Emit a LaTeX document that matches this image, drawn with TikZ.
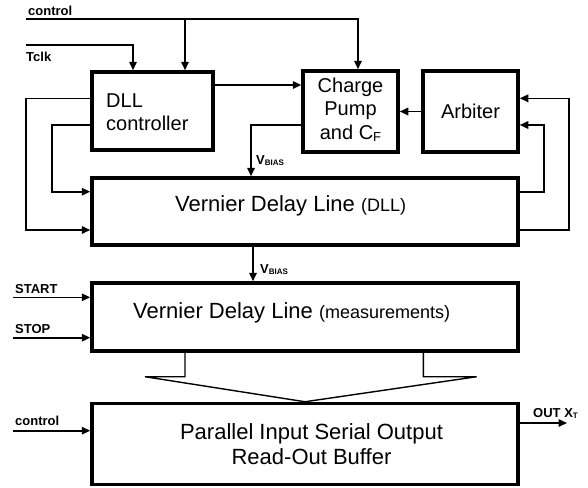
\documentclass[tikz,border=0pt]{standalone}
\usepackage{fontspec}
\setmainfont{Liberation Sans}
\usetikzlibrary{arrows.meta,calc}

\begin{document}
\begin{tikzpicture}[x=1pt,y=-1pt,
  blockbox/.style={draw,line width=3.5pt,inner sep=0pt},
  wire/.style={line width=1.6pt},
  arr/.style={wire,-{Triangle[length=8.5pt,width=7.5pt]}},
  bigtxt/.style={font=\fontsize{22}{25}\selectfont,inner sep=0pt},
  boxtxt/.style={font=\fontsize{20}{23}\selectfont,inner sep=0pt},
  sig/.style={font=\bfseries\fontsize{13}{15}\selectfont,inner sep=0pt},
  biastxt/.style={font=\bfseries\fontsize{13}{15}\selectfont,inner sep=0pt},
]
\useasboundingbox (0,0) rectangle (588,487);

% blocks
\node[blockbox,minimum width=121pt,minimum height=78pt] (dll)  at (152.5,111)   {};
\node[blockbox,minimum width=95pt, minimum height=81pt] (cp)   at (350.5,111.5) {};
\node[blockbox,minimum width=95pt, minimum height=81pt] (arb)  at (470.5,111.5) {};
\node[blockbox,minimum width=426pt,minimum height=67pt] (vdll) at (305,211.5)   {};
\node[blockbox,minimum width=426pt,minimum height=68pt] (vm)   at (305,317)     {};
\node[blockbox,minimum width=426pt,minimum height=81pt] (buf)  at (305,444)     {};

% block texts
\node[boxtxt,anchor=base west] (dllA) at (106,107) {DLL};
\node[boxtxt,anchor=base west] (dllB) at (106,130) {controller};
\node[boxtxt,anchor=base] (cpA) at (350.5,92) {Charge};
\node[boxtxt,anchor=base] (cpB) at (350.5,115.5) {Pump};
\node[boxtxt,anchor=base] (cpC) at (350.5,139) {and C\raisebox{-2pt}{\fontsize{13}{13}\selectfont F}};
\node[boxtxt,anchor=base] (arbT) at (470.5,118) {Arbiter};
\node[bigtxt,anchor=base west] (vdllT) at (175,211) {Vernier Delay Line {\fontsize{18}{18}\selectfont (DLL)}};
\node[bigtxt,anchor=base west] (vmT) at (133,318) {Vernier Delay Line {\fontsize{18}{18}\selectfont (measurements)}};
\node[bigtxt,anchor=base] (bufA) at (311.5,439) {Parallel Input Serial Output};
\node[bigtxt,anchor=base] (bufB) at (311.5,464) {Read-Out Buffer};

% signal labels
\node[sig,anchor=base west] (lctl) at (28,16) {control};
\node[sig,anchor=base west] (ltclk) at (26,62) {Tclk};
\node[sig,anchor=base west] (lstart) at (15,293) {START};
\node[sig,anchor=base west] (lstop) at (15,333) {STOP};
\node[sig,anchor=base west] (lctl2) at (15,425) {control};
\node[sig,anchor=base west] (lout) at (533,417) {OUT X\raisebox{-1.5pt}{\fontsize{8}{8}\selectfont T}};
\node[biastxt,anchor=base west] (lvb1) at (256,164) {V\raisebox{-1.5pt}{\fontsize{8}{8}\selectfont BIAS}};
\node[biastxt,anchor=base west] (lvb2) at (260,273) {V\raisebox{-1.5pt}{\fontsize{8}{8}\selectfont BIAS}};

% control and clock inputs
\coordinate (ctlL) at (26,19);
\coordinate (ctlR) at (358,19);
\coordinate (ctlJ) at (185,19);
\draw[arr] (ctlL) -- (ctlR) -- (ctlR |- cp.north);
\draw[arr] (ctlJ) -- (ctlJ |- dll.north);
\coordinate (tclkL) at (26,45);
\coordinate (tclkR) at (133,45);
\draw[arr] (tclkL) -- (tclkR) -- (tclkR |- dll.north);

% controller to charge pump, arbiter to charge pump
\coordinate (dc) at (258,85);
\draw[arr] (dc -| dll.east) -- (dc -| cp.west);
\draw[arr] (arb.west) -- (cp.east);

% bias from the charge pump
\coordinate (vb1) at (251,125);
\draw[arr] (vb1 -| cp.west) -- (vb1) -- (vb1 |- vdll.north);

% delay line outputs back to the arbiter
\coordinate (rin) at (544,191.7);
\coordinate (rinT) at (544,125);
\draw[arr] (rin -| vdll.east) -- (rin) -- (rinT) -- (rinT -| arb.east);
\coordinate (rout) at (569,230);
\coordinate (routT) at (569,98.3);
\draw[arr] (rout -| vdll.east) -- (rout) -- (routT) -- (routT -| arb.east);

% controller outputs to the delay line
\coordinate (lo) at (26,98.3);
\coordinate (loB) at (26,230);
\draw[arr] (lo -| dll.west) -- (lo) -- (loB) -- (loB -| vdll.west);
\coordinate (li) at (51.7,125);
\coordinate (liB) at (51.7,191.7);
\draw[arr] (li -| dll.west) -- (li) -- (liB) -- (liB -| vdll.west);

% bias to the measurement line
\coordinate (vb2) at (253,264);
\draw[arr] (vb2 |- vdll.south) -- (vb2 |- vm.north);

% START / STOP
\coordinate (start) at (13,297.3);
\draw[arr] (start) -- (start -| vm.west);
\coordinate (stop) at (13,337.7);
\draw[arr] (stop) -- (stop -| vm.west);

% parallel bus funnel
\coordinate (fl) at (185,376.7);
\coordinate (flo) at (145,376.7);
\coordinate (fr) at (423.3,376.7);
\coordinate (fro) at (476.7,376.7);
\draw[wire,line width=1.4pt] (fl |- vm.south) -- (fl) -- (flo) -- (buf.north) -- (fro) -- (fr) -- (fr |- vm.south);

% buffer control and output
\coordinate (ctlB) at (13,430.7);
\draw[arr] (ctlB) -- (ctlB -| buf.west);
\coordinate (outx) at (567,423);
\draw[arr] (outx -| buf.east) -- (outx);
\end{tikzpicture}
\end{document}
